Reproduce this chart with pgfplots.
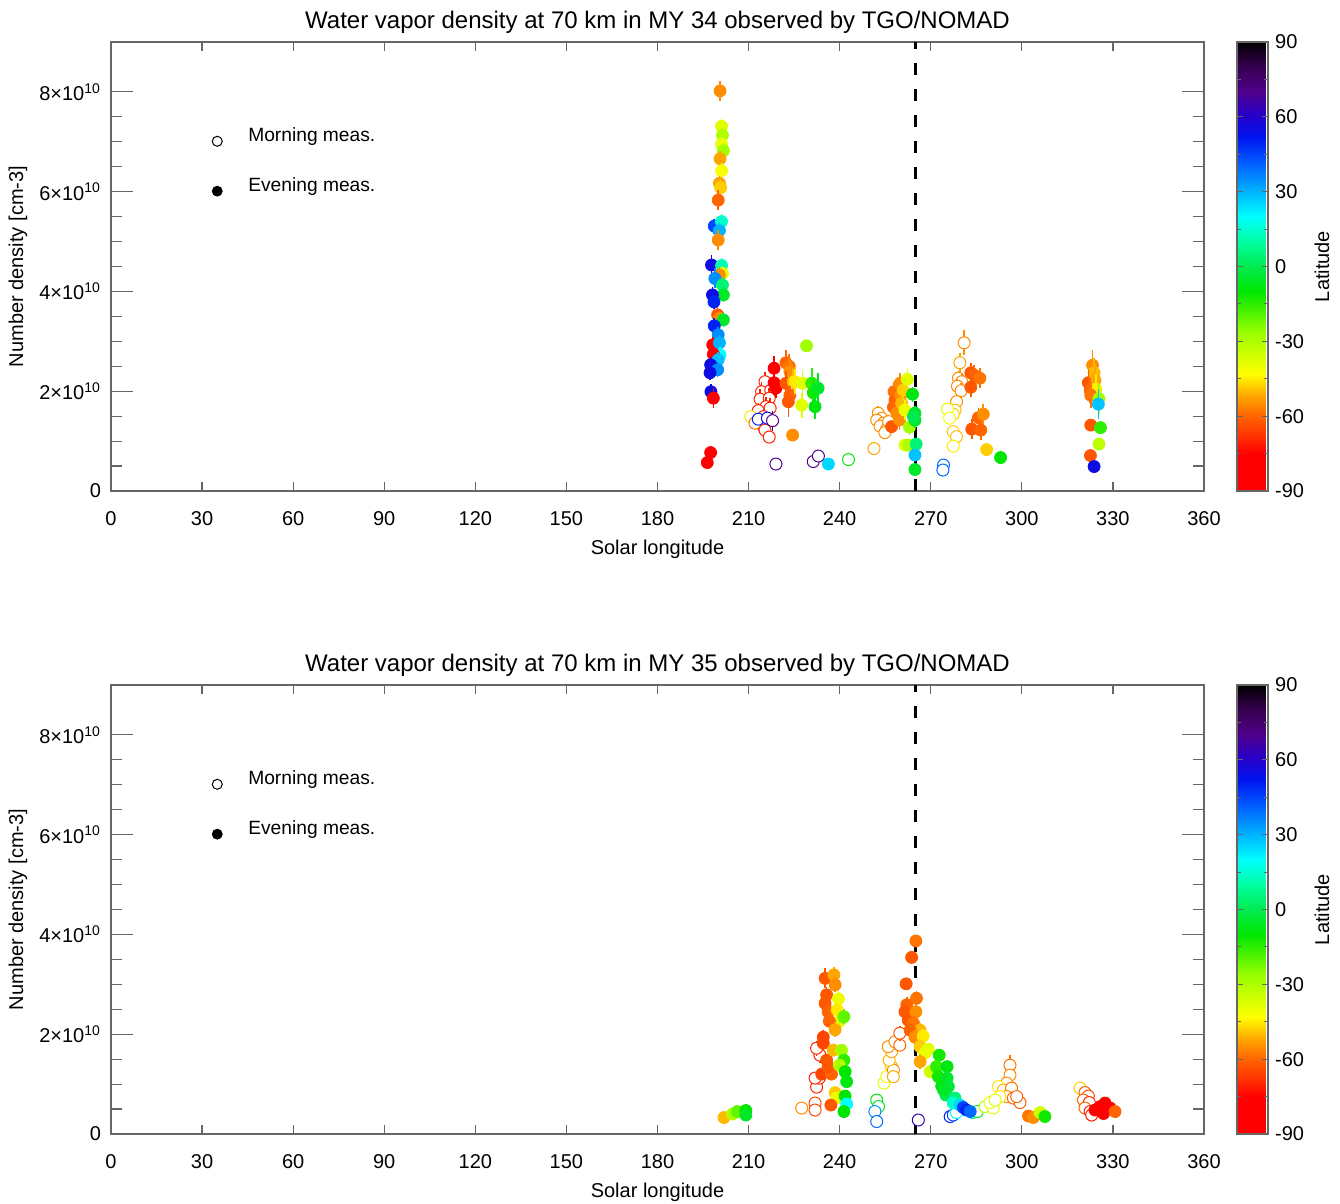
\documentclass[border=0pt]{standalone}
\usepackage{fontspec}
\setmainfont{Liberation Sans}
\usepackage{pgfplots}
\pgfplotsset{compat=1.18}
\tikzset{legtext/.style={anchor=west, inner sep=0pt, font=\fontsize{9.6}{12}\selectfont}}
\pgfplotsset{
  colormap={lat}{rgb255(0pt)=(255,0,0) rgb255(15pt)=(255,0,0) rgb255(22pt)=(255,50,0) rgb255(30pt)=(255,100,0) rgb255(38pt)=(255,165,0) rgb255(47pt)=(255,255,0) rgb255(64pt)=(150,255,0) rgb255(80pt)=(0,230,0) rgb255(90pt)=(0,235,80) rgb255(100pt)=(0,255,160) rgb255(110pt)=(0,255,255) rgb255(122pt)=(0,165,255) rgb255(132pt)=(0,90,255) rgb255(142pt)=(0,20,240) rgb255(151pt)=(40,0,200) rgb255(160pt)=(80,0,140) rgb255(170pt)=(55,0,80) rgb255(180pt)=(0,0,0)},
  myaxis/.style={
    scale only axis, width=546.5pt, height=224.5pt,
    xmin=0, xmax=360, ymin=0, ymax=9,
    xtick={0,30,...,360},
    ytick={0,2,4,6,8},
    minor y tick num=3,
    yticklabels={0,{2×10\textsuperscript{10}},{4×10\textsuperscript{10}},{6×10\textsuperscript{10}},{8×10\textsuperscript{10}}},
    /pgf/number format/assume math mode=true,
    tick label style={font=\fontsize{10}{12}\selectfont},
    xticklabel style={yshift=-6.5pt},
    yticklabel style={xshift=-1.5pt},
    axis line style={black!60, line width=0.6pt},
    every tick/.style={black!60, line width=0.6pt},
    xtick style={/pgfplots/major tick length=4.5pt},
    ytick style={/pgfplots/major tick length=11pt, /pgfplots/minor tick length=5.5pt},
    every axis x label/.style={at={(axis description cs:0.5,0)}, yshift=-29pt, anchor=center, font=\fontsize{10}{12}\selectfont},
    every axis y label/.style={at={(axis description cs:0,0.5)}, xshift=-46.5pt, anchor=center, rotate=90, font=\fontsize{10}{12}\selectfont},
    title style={at={(axis description cs:0.5,1)}, anchor=center, yshift=3.8pt, font=\fontsize{12}{14}\selectfont},
    xlabel={Solar longitude},
    ylabel={Number density [cm-3]},
    colormap name=lat,
    point meta min=-90, point meta max=90,
    colorbar,
    colorbar style={
      at={(parent axis.north east)}, anchor=north west, xshift=8pt,
      scale only axis, width=15.5pt, height=224.5pt,
      ytick={-90,-60,...,90}, minor ytick={-75,-45,-15,15,45,75},
      /pgf/number format/assume math mode=true,
      yticklabel pos=right,
      tick label style={font=\fontsize{10}{12}\selectfont},
      axis line style={black!60, line width=0.6pt},
      every tick/.style={black!60, line width=0.5pt},
      major tick length=3pt, minor tick length=2pt,
      ylabel={Latitude},
      every axis y label/.style={at={(axis description cs:1,0.5)}, xshift=27pt, anchor=center, rotate=90, font=\fontsize{10}{12}\selectfont},
    },
  },
  % error bars drawn in the mapped colour, under each mark (1 y unit = 224.5pt/9)
  errbar/.style={visualization depends on={24.944*\thisrow{e} \as \errlen},
    scatter/@pre marker code/.append code={\draw[line width=0.8pt] (0pt,-\errlen pt) -- (0pt,\errlen pt);}},
  morn/.style={scatter, only marks, mark=*, mark size=3pt, line width=0.5pt, point meta=explicit,
    scatter/use mapped color={draw=mapped color, fill=white}, errbar},
  even/.style={scatter, only marks, mark=*, mark size=3pt, point meta=explicit,
    scatter/use mapped color={draw=mapped color, fill=mapped color}, errbar},
}
\begin{document}
\begin{tikzpicture}
\useasboundingbox (0,0) rectangle (670pt,602pt);
% ---------------- MY 34 ----------------
\begin{axis}[myaxis, at={(55.5pt,356.5pt)}, anchor=south west,
  title={Water vapor density at 70 km in MY 34 observed by TGO/NOMAD}]
\addplot[morn] table[x=ls, y=n, meta=lat] {
ls n e lat
215.4 2.19 0.2 -70
214.3 1.99 0.2 -70
217.3 2.02 0.2 -70
213.8 1.84 0.2 -70
216.8 1.86 0.2 -70
215.7 1.69 0.2 -70
213.2 1.61 0.15 -70
217.1 1.66 0.2 -70
214.9 1.49 0.15 -70
213.5 1.36 0.15 -70
215.4 1.22 0.15 -70
216.8 1.08 0.1 -70
210.7 1.49 0.1 -45
212.1 1.36 0.1 -58
213.2 1.44 0.1 50
216.2 1.46 0.1 55
217.9 1.41 0.2 70
219.0 0.54 0.05 70
231.3 0.59 0.05 70
233.0 0.70 0.05 70
242.9 0.63 0.05 -8
251.3 0.85 0.05 -52
252.7 1.56 0.15 -55
253.8 1.46 0.1 -55
252.2 1.42 0.1 -55
254.4 1.36 0.1 -55
253.3 1.30 0.1 -55
255.5 1.24 0.1 -55
254.9 1.17 0.1 -55
256.1 1.39 0.1 -55
274.2 0.52 0.05 40
274.0 0.42 0.05 40
281.0 2.97 0.25 -55
279.6 2.57 0.2 -52
279.1 2.26 0.15 -55
280.2 2.19 0.15 -55
278.8 2.10 0.15 -55
280.0 2.01 0.15 -55
278.5 1.79 0.15 -55
278.0 1.62 0.1 -50
277.4 1.54 0.1 -48
277.4 1.19 0.1 -48
278.5 1.09 0.1 -50
277.4 0.90 0.05 -45
275.5 1.64 0.1 -40
276.2 1.46 0.1 -42
};
\addplot[even] table[x=ls, y=n, meta=lat] {
ls n e lat
200.6 8.02 0.2 -55
201.1 7.31 0.15 -38
201.4 7.13 0.15 -30
201.1 6.95 0.15 -40
201.7 6.82 0.15 -28
200.6 6.66 0.15 -52
201.1 6.42 0.15 -42
200.4 6.17 0.15 -52
200.8 6.08 0.15 -48
200.0 5.83 0.2 -60
198.7 5.31 0.15 45
201.1 5.40 0.15 15
200.4 5.22 0.15 30
200.0 5.03 0.2 -55
197.8 4.53 0.2 55
201.1 4.52 0.15 12
201.4 4.36 0.15 -38
200.4 4.33 0.15 -55
198.9 4.26 0.2 35
201.4 4.13 0.15 5
201.7 3.93 0.15 -5
198.1 3.93 0.15 55
198.6 3.79 0.15 50
199.8 3.53 0.15 -62
200.4 3.46 0.15 -55
201.7 3.43 0.15 -5
198.7 3.31 0.15 50
200.0 3.13 0.15 35
198.2 2.93 0.15 -80
200.4 2.97 0.15 30
200.6 2.73 0.15 20
198.4 2.74 0.15 -75
200.0 2.63 0.15 28
197.5 2.53 0.15 55
199.8 2.43 0.15 35
197.3 2.37 0.15 55
197.6 1.99 0.15 55
198.4 1.86 0.2 -85
197.5 0.77 0.05 -85
196.4 0.57 0.05 -85
218.4 2.46 0.25 -80
218.4 2.17 0.25 -80
219.0 2.06 0.2 -80
222.3 2.57 0.25 -60
223.4 2.50 0.25 -58
223.6 2.39 0.25 -55
222.3 2.16 0.25 -62
224.7 2.19 0.25 -50
223.6 1.92 0.25 -60
223.1 1.79 0.3 -62
225.3 2.19 0.25 -45
227.8 2.16 0.25 -38
227.5 1.72 0.25 -38
229.1 2.91 0.1 -28
230.8 2.16 0.3 -15
231.3 1.97 0.3 -12
232.9 2.06 0.3 -5
231.9 1.69 0.25 -8
224.5 1.12 0.05 -55
236.3 0.54 0.05 25
257.1 1.29 0.1 -62
257.9 1.99 0.2 -58
258.2 1.82 0.2 -60
257.7 1.68 0.2 -60
258.8 1.56 0.2 -55
259.9 2.16 0.2 -55
260.1 1.92 0.2 -55
260.4 1.76 0.2 -50
259.7 1.42 0.2 -55
261.0 2.02 0.2 -48
262.3 2.24 0.2 -38
261.5 1.62 0.2 -40
263.0 1.28 0.15 -28
264.0 1.94 0.15 -8
264.8 1.56 0.15 -5
264.8 1.42 0.15 -5
264.3 1.49 0.15 0
261.5 0.92 0.05 -38
262.6 0.92 0.05 -30
265.2 0.94 0.05 5
264.8 0.72 0.05 28
264.8 0.43 0.05 -5
283.2 2.37 0.2 -62
284.3 2.32 0.2 -60
286.2 2.26 0.2 -58
283.2 2.08 0.2 -62
285.7 1.47 0.2 -60
287.3 1.54 0.2 -55
283.5 1.24 0.2 -62
286.5 1.22 0.2 -60
288.4 0.83 0.05 -48
293.0 0.67 0.05 -10
323.3 2.52 0.3 -55
323.8 2.37 0.3 -50
321.9 2.17 0.25 -62
324.1 2.22 0.3 -52
322.5 2.02 0.25 -60
324.4 2.04 0.3 -45
322.7 1.92 0.25 -58
325.4 1.85 0.3 -28
325.2 1.74 0.3 28
322.7 1.32 0.05 -62
325.9 1.27 0.05 -15
325.4 0.94 0.05 -32
322.6 0.71 0.05 -62
323.8 0.49 0.05 55
};
\addplot[black, line width=1.2pt, dash pattern=on 6pt off 7pt] coordinates {(265,0) (265,9)};
\addplot[only marks, mark=o, mark size=2.5pt, line width=0.5pt, black] coordinates {(35,7.01)};
\addplot[only marks, mark=*, mark size=2.5pt, black] coordinates {(35,6.01)};
\node[legtext] at (axis cs:45.1,7.11) {Morning meas.};
\node[legtext] at (axis cs:45.1,6.11) {Evening meas.};
\end{axis}
% ---------------- MY 35 ----------------
\begin{axis}[myaxis, at={(55.5pt,35pt)}, anchor=south west,
  title={Water vapor density at 70 km in MY 35 observed by TGO/NOMAD}]
\addplot[morn] table[x=ls, y=n, meta=lat] {
ls n e lat
227.5 0.52 0.05 -55
231.9 0.62 0.05 -65
231.9 0.48 0.05 -65
232.4 0.94 0.1 -70
233.3 1.12 0.1 -70
231.9 1.12 0.1 -70
233.5 1.58 0.15 -70
232.4 1.72 0.15 -70
252.2 0.68 0.05 -10
252.8 0.55 0.05 -5
251.6 0.45 0.05 35
252.2 0.25 0.05 40
276.4 0.35 0.05 50
277.4 0.38 0.05 45
278.5 0.43 0.05 20
283.8 0.43 0.05 5
285.3 0.45 0.05 -5
287.9 0.55 0.05 -30
290.6 0.52 0.05 -38
289.5 0.63 0.05 -40
265.9 0.28 0.05 65
254.6 1.02 0.1 -38
255.5 1.15 0.1 -40
257.1 1.35 0.1 -50
257.7 1.28 0.1 -55
256.3 1.48 0.1 -50
257.1 1.65 0.1 -52
256.0 1.75 0.1 -55
258.2 1.85 0.1 -55
259.8 1.78 0.1 -60
259.8 2.02 0.15 -62
257.7 1.15 0.1 -52
296.1 1.38 0.2 -58
296.1 1.18 0.1 -55
295.0 1.02 0.1 -55
292.3 0.95 0.05 -45
293.9 0.88 0.05 -50
296.6 0.92 0.05 -58
295.0 0.75 0.05 -55
292.8 0.75 0.05 -45
297.2 0.72 0.05 -60
299.4 0.63 0.05 -62
291.2 0.68 0.05 -38
298.3 0.75 0.05 -60
319.2 0.92 0.05 -48
320.8 0.83 0.05 -60
321.9 0.76 0.05 -65
320.3 0.68 0.05 -60
322.2 0.63 0.05 -70
320.8 0.52 0.05 -60
322.5 0.45 0.05 -70
323.0 0.38 0.05 -72
};
\addplot[even] table[x=ls, y=n, meta=lat] {
ls n e lat
201.9 0.33 0.05 -50
204.7 0.40 0.05 -30
206.3 0.45 0.05 -20
209.1 0.47 0.05 -10
209.1 0.38 0.05 -5
234.1 1.20 0.1 -65
237.3 1.20 0.1 -60
235.7 1.48 0.1 -62
236.2 1.35 0.1 -62
234.6 1.94 0.15 -65
234.6 1.82 0.15 -65
235.2 3.12 0.2 -62
238.1 3.19 0.15 -52
238.5 2.99 0.15 -55
235.7 2.79 0.15 -62
235.2 2.62 0.15 -62
236.2 2.45 0.15 -60
239.6 2.71 0.15 -40
239.2 2.49 0.15 -45
239.9 2.26 0.15 -38
241.4 2.35 0.15 -20
236.6 2.26 0.15 -60
238.5 2.09 0.15 -52
237.9 1.68 0.1 -50
240.6 1.68 0.1 -28
241.4 1.48 0.1 -15
239.9 1.38 0.1 -30
241.8 1.25 0.1 -10
242.3 1.05 0.1 -8
238.5 0.83 0.05 -48
239.0 0.72 0.05 -40
241.8 0.76 0.05 -10
242.3 0.60 0.05 20
237.1 0.58 0.05 -62
241.4 0.45 0.05 -10
265.1 3.87 0.1 -58
263.7 3.54 0.1 -62
261.9 3.01 0.1 -62
265.3 2.72 0.15 -58
262.1 2.59 0.15 -60
261.5 2.45 0.15 -62
262.6 2.28 0.15 -62
265.1 2.45 0.15 -55
264.3 2.22 0.15 -58
266.5 2.08 0.15 -50
263.2 2.08 0.15 -60
264.8 1.94 0.15 -55
267.5 1.96 0.15 -45
266.5 1.75 0.15 -48
269.2 1.70 0.1 -38
268.1 1.62 0.1 -40
266.5 1.45 0.15 -52
269.8 1.25 0.1 -35
272.8 1.58 0.1 -12
271.9 1.35 0.1 -15
275.4 1.35 0.1 -8
272.5 1.15 0.1 -12
275.4 1.12 0.1 -5
273.6 0.96 0.05 -8
275.8 0.95 0.05 -3
275.0 0.78 0.05 0
278.0 0.72 0.05 5
277.4 0.62 0.05 15
279.6 0.58 0.05 25
280.7 0.53 0.05 45
281.8 0.48 0.05 50
283.0 0.45 0.05 40
274.2 0.88 0.05 -5
302.2 0.36 0.05 -58
303.8 0.33 0.05 -55
306.0 0.43 0.05 -35
307.6 0.35 0.05 -12
324.1 0.48 0.05 -85
325.8 0.55 0.05 -85
327.4 0.62 0.05 -82
326.9 0.41 0.05 -80
329.1 0.52 0.05 -75
330.7 0.45 0.05 -60
};
\addplot[black, line width=1.2pt, dash pattern=on 6pt off 7pt] coordinates {(265,0) (265,9)};
\addplot[only marks, mark=o, mark size=2.5pt, line width=0.5pt, black] coordinates {(35,7.01)};
\addplot[only marks, mark=*, mark size=2.5pt, black] coordinates {(35,6.01)};
\node[legtext] at (axis cs:45.1,7.11) {Morning meas.};
\node[legtext] at (axis cs:45.1,6.11) {Evening meas.};
\end{axis}
\end{tikzpicture}
\end{document}
